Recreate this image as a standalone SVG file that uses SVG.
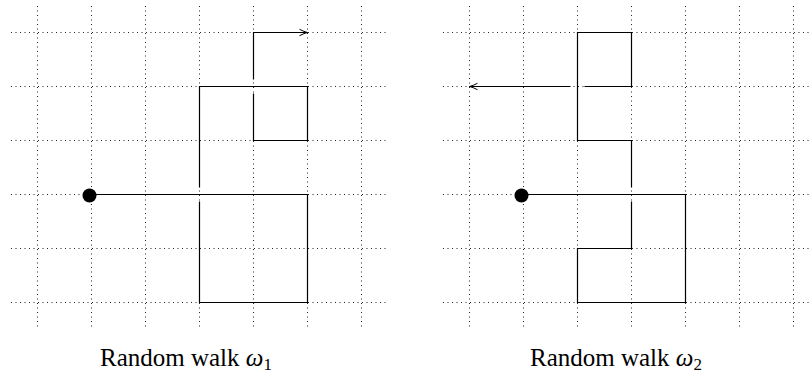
<svg xmlns="http://www.w3.org/2000/svg" width="812" height="386" viewBox="0 0 812 386">
  <style>
    .grid line { stroke: #222; stroke-width: 1; stroke-dasharray: 1 3.5; }
    .walk path { fill: none; stroke: #000; stroke-width: 1.2; stroke-linejoin: miter; }
    .lbl { font-family: "Liberation Serif", "Times New Roman", serif; font-size: 25px; fill: #000; }
    .w { font-style: italic; }
    .sub { font-size: 17px; }
  </style>
  <defs>
    <marker id="arr" viewBox="-10 -5 12 10" markerWidth="12" markerHeight="10" refX="0" refY="0" orient="auto" markerUnits="userSpaceOnUse">
      <path d="M-8,-3.2 Q-3,-0.6 0,0 Q-3,0.6 -8,3.2" fill="none" stroke="#000" stroke-width="1"/>
    </marker>
  </defs>

  <g id="grid-left" class="grid">
    <line x1="37.5" y1="6" x2="37.5" y2="329"/>
    <line x1="91.5" y1="6" x2="91.5" y2="329"/>
    <line x1="145.5" y1="6" x2="145.5" y2="329"/>
    <line x1="199.5" y1="6" x2="199.5" y2="329"/>
    <line x1="253.5" y1="6" x2="253.5" y2="329"/>
    <line x1="307.5" y1="6" x2="307.5" y2="329"/>
    <line x1="361.5" y1="6" x2="361.5" y2="329"/>
    <line x1="11" y1="32.5" x2="388" y2="32.5"/>
    <line x1="11" y1="86.5" x2="388" y2="86.5"/>
    <line x1="11" y1="140.5" x2="388" y2="140.5"/>
    <line x1="11" y1="194.5" x2="388" y2="194.5"/>
    <line x1="11" y1="248.5" x2="388" y2="248.5"/>
    <line x1="11" y1="302.5" x2="388" y2="302.5"/>
  </g>

  <g id="grid-right" class="grid">
    <line x1="469.5" y1="6" x2="469.5" y2="329"/>
    <line x1="523.5" y1="6" x2="523.5" y2="329"/>
    <line x1="577.5" y1="6" x2="577.5" y2="329"/>
    <line x1="631.5" y1="6" x2="631.5" y2="329"/>
    <line x1="685.5" y1="6" x2="685.5" y2="329"/>
    <line x1="739.5" y1="6" x2="739.5" y2="329"/>
    <line x1="793.5" y1="6" x2="793.5" y2="329"/>
    <line x1="443" y1="32.5" x2="820" y2="32.5"/>
    <line x1="443" y1="86.5" x2="820" y2="86.5"/>
    <line x1="443" y1="140.5" x2="820" y2="140.5"/>
    <line x1="443" y1="194.5" x2="820" y2="194.5"/>
    <line x1="443" y1="248.5" x2="820" y2="248.5"/>
    <line x1="443" y1="302.5" x2="820" y2="302.5"/>
  </g>

  <g id="connectors" class="walk">
    <path d="M91.5,194.5 H307.5 V302.5 H199.5 V201.5"/>
    <path d="M199.5,187.5 V86.5 H307.5 V140.5 H253.5 V93.5"/>
    <path d="M253.5,79.5 V32.5 H307.5" marker-end="url(#arr)"/>
    <path d="M523.5,194.5 H685.5 V302.5 H577.5 V248.5 H631.5 V201.5"/>
    <path d="M631.5,187.5 V140.5 H577.5 V32.5 H631.5 V86.5 H584.5"/>
    <path d="M570.5,86.5 H469.5" marker-end="url(#arr)"/>
  </g>

  <g id="start-left">
    <circle cx="89.5" cy="195.5" r="7" fill="#000"/>
  </g>
  <g id="start-right">
    <circle cx="521.5" cy="195.5" r="7" fill="#000"/>
  </g>

  <g id="label-left">
    <text class="lbl" x="100" y="366">Random walk <tspan class="w">ω</tspan><tspan class="sub" dy="4">1</tspan></text>
  </g>
  <g id="label-right">
    <text class="lbl" x="530" y="366">Random walk <tspan class="w">ω</tspan><tspan class="sub" dy="4">2</tspan></text>
  </g>
</svg>
